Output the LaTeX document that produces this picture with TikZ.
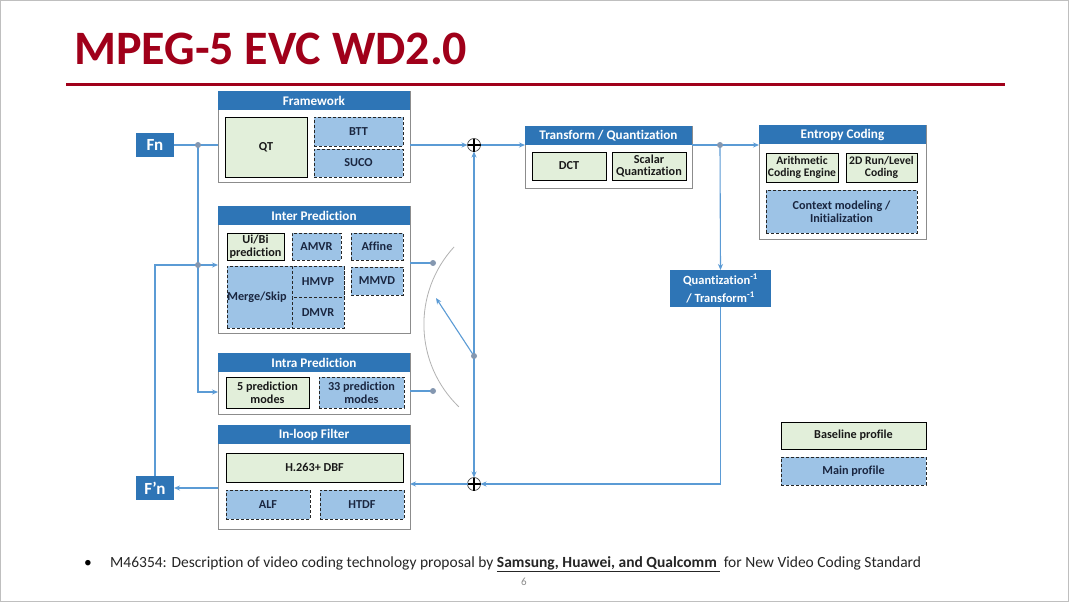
\documentclass[tikz,border=0pt]{standalone}
\usepackage{fontspec}
\setmainfont{Carlito}[Ligatures=NoCommon]
\usetikzlibrary{arrows.meta,calc}
\definecolor{hdr}{HTML}{2E75B6}
\definecolor{grn}{HTML}{E2EFDA}
\definecolor{blu}{HTML}{9DC3E6}
\definecolor{ln}{HTML}{5B9BD5}
\definecolor{dotc}{HTML}{8497B0}
\definecolor{ttl}{HTML}{A0001A}
\definecolor{grpc}{HTML}{8C8C8C}
\definecolor{navy}{HTML}{1A2640}
\newcommand\mybox[7]{\node[#2, minimum width={(#5)-(#3)}, minimum height={(#6)-(#4)}] (#1) at ({((#3)+(#5))/2},{((#4)+(#6))/2}) {#7};}
\newcommand\mygroup[6]{\mybox{#1}{grp}{#2}{#3}{#4}{#5}{}\mybox{#1h}{hdr}{#2}{#3}{#4}{(#3)+19}{#6}}
\tikzset{
  grp/.style={draw=grpc, fill=white, line width=0.8pt, inner sep=0pt, outer sep=0pt},
  hdr/.style={fill=hdr, text=white, font=\bfseries\fontsize{13.2}{14}\selectfont, inner sep=0pt, outer sep=0pt},
  gbox/.style={draw=black, fill=grn, line width=0.9pt, align=center, inner sep=0pt, outer sep=0pt, font=\bfseries\fontsize{12.2}{12.8}\selectfont, text=black!90},
  dbox/.style={draw=black!85, fill=blu, line width=0.9pt, dash pattern=on 3pt off 2pt, align=center, inner sep=0pt, outer sep=0pt, font=\bfseries\fontsize{12.2}{12.8}\selectfont, text=navy},
  fbox/.style={fill=hdr, text=white, align=center, inner sep=0pt, outer sep=0pt, font=\bfseries\fontsize{17}{18}\selectfont},
  conn/.style={draw=ln, line width=1.1pt},
  arr/.style={conn, -{Stealth[length=6pt,width=5pt]}},
  jdot/.style={circle, fill=dotc, minimum size=6pt, inner sep=0pt},
  plusc/.style={circle, draw=black!70, fill=white, line width=0.7pt, minimum size=13pt, inner sep=0pt, outer sep=0pt},
}
\begin{document}
\begin{tikzpicture}[x=1pt,y=-1pt]
\useasboundingbox (0,0) rectangle (1069,602);
\fill[white] (0,0) rectangle (1069,602);
\draw[black!25, line width=1pt] (0.5,0.5) rectangle (1068.5,601.5);
% title
\node[anchor=base west, inner sep=0pt, text=ttl, font=\bfseries\fontsize{48}{48}\selectfont] (title) at (74,65) {MPEG-5 EVC WD2.0};
\coordinate (rl1) at (66,84.5);
\coordinate (rl2) at (1005,84.5);
\draw[ttl, line width=2.5pt] (rl1) -- (rl2);
% Fn boxes
\mybox{fn}{fbox}{136}{133}{174}{157}{Fn}
\mybox{fpn}{fbox}{136}{476}{174}{500}{F’n}
% Framework
\mygroup{fw}{218}{91}{410}{182}{Framework}
\mybox{qt}{gbox}{225}{117}{307}{177}{QT}
\mybox{btt}{dbox}{314}{117}{403}{146}{BTT}
\mybox{suco}{dbox}{314}{149}{403}{177}{SUCO}
% Inter
\mygroup{inter}{218}{206}{410}{333}{Inter Prediction}
\mybox{uibi}{gbox}{227}{233}{284}{260}{Ui/Bi\\prediction}
\mybox{amvr}{dbox}{292}{233}{341}{260}{AMVR}
\mybox{affine}{dbox}{351}{233}{403}{260}{Affine}
\mybox{merge}{dbox}{227}{266}{344}{328}{}
\node[font=\bfseries\fontsize{12.2}{12.8}\selectfont, text=navy, inner sep=0pt] (mergetxt) at (257,297) {Merge/Skip};
\mybox{hmvp}{dbox}{292}{266}{344}{297}{HMVP}
\mybox{dmvr}{dbox}{292}{297}{344}{328}{DMVR}
\mybox{mmvd}{dbox}{351}{267}{403}{295}{MMVD}
% Intra
\mygroup{intra}{218}{353}{410}{414}{Intra Prediction}
\mybox{pm5}{gbox}{226}{377}{309}{408}{5 prediction\\modes}
\mybox{pm33}{dbox}{319}{377}{404}{408}{33 prediction\\modes}
% In-loop
\mygroup{loop}{218}{425}{410}{529}{In-loop Filter}
\mybox{dbf}{gbox}{226}{453}{403}{482}{H.263+ DBF}
\mybox{alf}{dbox}{226}{490}{310}{519}{ALF}
\mybox{htdf}{dbox}{320}{490}{404}{519}{HTDF}
% Transform
\mygroup{tq}{525}{126}{692}{188}{Transform / Quantization}
\mybox{dct}{gbox}{532}{152}{606}{180}{DCT}
\mybox{sq}{gbox}{612}{152}{686}{180}{Scalar\\Quantization}
% Entropy
\mygroup{ec}{759}{125}{926}{239}{Entropy Coding}
\mybox{ace}{gbox}{766}{153}{838}{182}{\fontsize{11.6}{12.8}\selectfont Arithmetic\\\fontsize{11.6}{12.8}\selectfont Coding Engine}
\mybox{rl}{gbox}{846}{153}{917}{182}{\fontsize{11.6}{12.8}\selectfont 2D Run/Level\\\fontsize{11.6}{12.8}\selectfont Coding}
\mybox{ctx}{dbox}{766}{190}{917}{233}{Context modeling /\\Initialization}
% Quant inverse
\mybox{qi}{fbox}{670}{270}{771}{307}{\fontsize{12.5}{14}\selectfont Quantization\textsuperscript{-1}\\\fontsize{12.5}{14}\selectfont / Transform\textsuperscript{-1}}
% Legend
\mybox{base}{gbox}{781}{422}{926}{449}{Baseline profile}
\mybox{main}{dbox}{781}{457}{926}{485}{Main profile}
% plus nodes
\node[plusc] (p1) at (474,145) {};
\node[plusc] (p2) at (474,484) {};
\foreach \p in {p1,p2}{\draw[black, line width=1.6pt] (\p.west) -- (\p.east) (\p.north) -- (\p.south);}
% junctions
\coordinate (j1) at (198,145);
\coordinate (j2) at (198,265);
\coordinate (j3) at (720,145);
\coordinate (c1) at (198,392);
\coordinate (sa) at (433,263);
\coordinate (sb) at (433,391);
\coordinate (s0) at (474,356);
\coordinate (s1) at (436,298);
% connectors
\draw[conn] (fn.east) -- (fn.east -| fw.west);
\draw[arr] (j1) |- (intra.west |- c1);
\draw[arr] (fpn.north) |- (inter.west |- j2);
\draw[arr] (fw.east |- p1) -- (p1.west);
\draw[arr] (p1.east) -- (p1.east -| tq.west);
\draw[arr] (tq.east |- j3) -- (ec.west |- j3);
\draw[arr] (j3) -- (qi.north);
\draw[arr] (qi.south) |- (p2.east);
\draw[arr] (p2.west) -- (p2.west -| loop.east);
\draw[arr] (loop.west |- fpn.east) -- (fpn.east);
\draw[conn] (inter.east |- sa) -- (sa);
\draw[conn] (intra.east |- sb) -- (sb);
\draw[arr] (s0) -- (p1.south);
\draw[arr] (s0) -- (p2.north);
\draw[arr] (s0) -- (s1);
\draw[black!30, line width=0.8pt] (454,247) arc[start angle=222.5, end angle=134, radius=114.6];
\foreach \c in {j1,j2,j3,sa,sb,s0}{\node[jdot] at (\c) {};}
% footer
\node[anchor=base west, inner sep=0pt, font=\fontsize{15.5}{17}\selectfont] (bul) at (84,567) {•};
\node[anchor=base west, inner sep=0pt, font=\fontsize{15.5}{17}\selectfont, text=black!85] (foot) at (110,567) {M46354: Description of video coding technology proposal by \underline{\textbf{Samsung, Huawei, and Qualcomm }} for New Video Coding Standard};
\node[anchor=base, inner sep=0pt, font=\fontsize{11}{12}\selectfont, text=black!45] (pg) at (524,585) {6};
\end{tikzpicture}
\end{document}
